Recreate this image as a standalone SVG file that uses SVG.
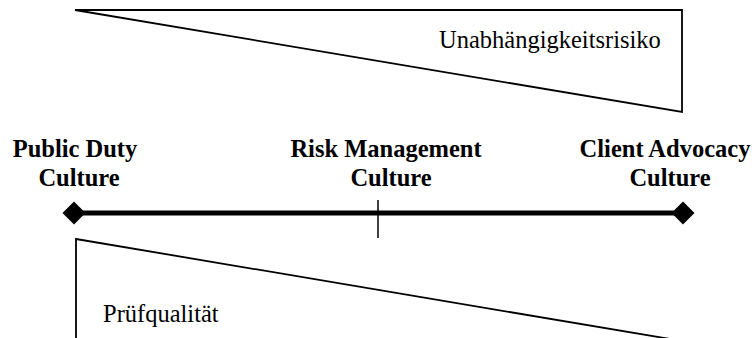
<svg xmlns="http://www.w3.org/2000/svg" width="756" height="338" viewBox="0 0 756 338">
<style>
.lbl{font-family:"Liberation Serif","Times New Roman",serif;font-size:24.5px;font-weight:bold;fill:#000;text-anchor:middle}
.reg{font-family:"Liberation Serif","Times New Roman",serif;font-size:24.5px;fill:#000}
.tri{fill:#fff;stroke:#000;stroke-width:1.8}
</style>
<rect width="756" height="338" fill="#fff"/>
<g id="unabhaengigkeitsrisiko">
<polygon class="tri" points="75,10 682,10 682,112"/>
<text class="reg" x="439" y="48">Unabhängigkeitsrisiko</text>
</g>
<g id="pruefqualitaet">
<polygon class="tri" points="76,239 682,341 76,341"/>
<text class="reg" x="103" y="322">Prüfqualität</text>
</g>
<g id="connectors">
<line x1="74" y1="213" x2="684" y2="213" stroke="#000" stroke-width="5"/>
<line x1="378" y1="200" x2="378" y2="238" stroke="#000" stroke-width="1.5"/>
</g>
<g id="public-duty">
<polygon points="74,201.5 85.5,213 74,224.5 62.5,213" fill="#000"/>
<text class="lbl" x="75" y="157">Public Duty</text>
<text class="lbl" x="79" y="186">Culture</text>
</g>
<g id="risk-management">
<text class="lbl" x="386" y="157">Risk Management</text>
<text class="lbl" x="391" y="186">Culture</text>
</g>
<g id="client-advocacy">
<polygon points="683,201.5 694.5,213 683,224.5 671.5,213" fill="#000"/>
<text class="lbl" x="665" y="157">Client Advocacy</text>
<text class="lbl" x="670" y="186">Culture</text>
</g>
</svg>
